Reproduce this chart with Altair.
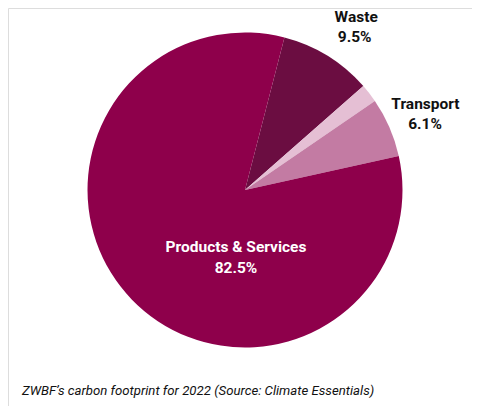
import math
import altair as alt
import pandas as pd

categories = ["Waste", "Other", "Transport", "Products & Services"]
shares = [9.5, 1.9, 6.1, 82.5]
labels = ["9.5%", "", "6.1%", "82.5%"]
colors = ["#6B0D41", "#E5BFD4", "#C37BA3", "#8E004B"]
caption_text = "ZWBF’s carbon footprint for 2022 (Source: Climate Essentials)"

df = pd.DataFrame({
    "category": categories,
    "share": shares,
    "label": labels,
    "order": list(range(len(categories))),
})

W, H = 464, 398
CX, CY = 237, 182
R = 157.5
LR = 196
start = math.radians(14.5)
font = "Roboto"
FS = 15.5

theta = alt.Theta("share:Q", stack=True,
                  scale=alt.Scale(range=[start, start + 2 * math.pi]))
color = alt.Color("category:N", legend=None,
                  scale=alt.Scale(domain=categories, range=colors))
order = alt.Order("order:Q")

base = alt.Chart(df).encode(theta=theta, order=order,
                            x=alt.value(CX), y=alt.value(CY))

arcs = base.mark_arc(outerRadius=R, strokeWidth=0).encode(color=color)


def outer_label(cat, field, dx, dy):
    return base.mark_text(radius=LR, dx=dx, dy=dy, font=font, fontWeight="bold",
                          fontSize=FS, color="#111111").encode(
        text=alt.Text("shown:N")
    ).transform_calculate(
        shown=f"datum.category == '{cat}' ? datum.{field} : ''")


waste_name = outer_label("Waste", "category", 8.5, -6)
waste_val = outer_label("Waste", "label", 7, 14)
trans_name = outer_label("Transport", "category", 0.7, -8)
trans_val = outer_label("Transport", "label", 0.3, 12.5)

inner = alt.Chart(df).transform_filter(
    alt.datum.category == "Products & Services"
)
inner_name = inner.mark_text(font=font, fontWeight="bold", fontSize=FS,
                             color="white", dx=-9, dy=57).encode(
    text="category:N", x=alt.value(CX), y=alt.value(CY))
inner_val = inner.mark_text(font=font, fontWeight="bold", fontSize=FS,
                            color="white", dx=-9, dy=78).encode(
    text="label:N", x=alt.value(CX), y=alt.value(CY))

caption = alt.Chart(pd.DataFrame({"t": [caption_text]})).mark_text(
    font=font, fontStyle="italic", fontSize=13.2, color="#111111",
    align="left", baseline="alphabetic").encode(
    text="t:N", x=alt.value(14), y=alt.value(387))

chart = alt.layer(arcs, waste_name, waste_val, trans_name, trans_val,
                  inner_name, inner_val, caption).properties(
    width=W, height=H,
    autosize=alt.AutoSizeParams(type="none"),
    padding=0,
).configure_view(stroke="transparent", strokeWidth=0).configure(background="white")

chart.save("out.html", embed_options={"renderer": "svg", "actions": False})
